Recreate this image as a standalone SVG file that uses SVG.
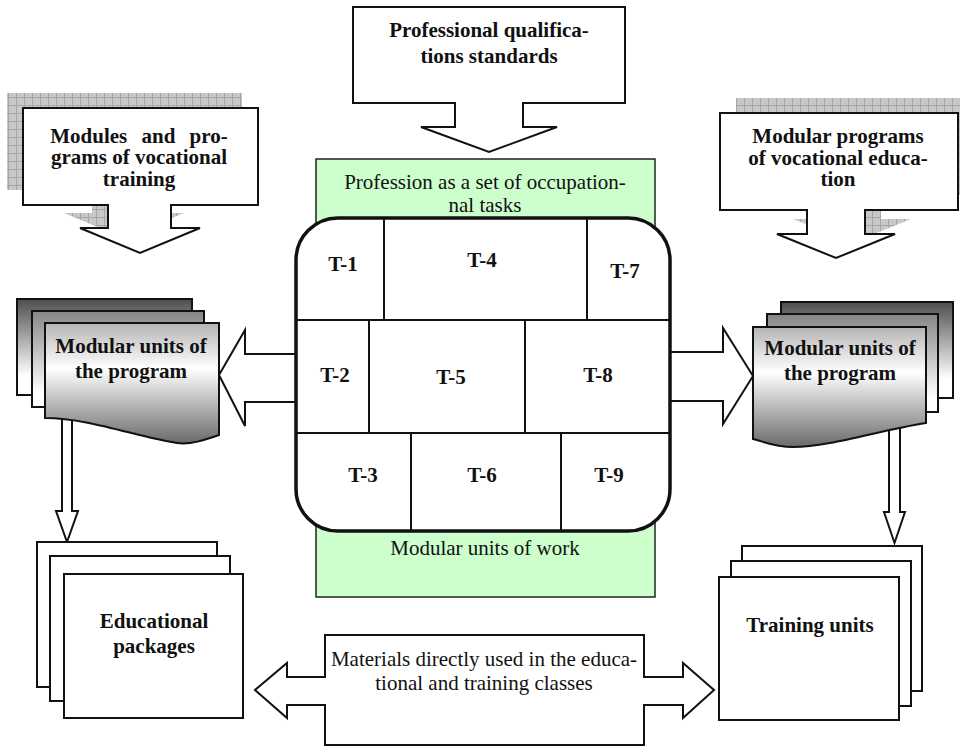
<svg xmlns="http://www.w3.org/2000/svg" width="960" height="746" viewBox="0 0 960 746">
  <defs>
    <style>
      .b { font-family: "Liberation Serif", "Times New Roman", serif; font-weight: bold; font-size: 21px; fill: #111; text-anchor: middle; }
      .r { font-family: "Liberation Serif", "Times New Roman", serif; font-size: 21px; fill: #111; text-anchor: middle; }
      .box { fill: #fff; stroke: #111; stroke-width: 2; }
      .arrow { fill: #fff; stroke: #111; stroke-width: 2; stroke-linejoin: miter; }
      .cell { stroke: #111; stroke-width: 2; fill: none; }
      .shadow { fill: url(#grid); stroke: none; }
    </style>
    <pattern id="grid" width="8" height="8" patternUnits="userSpaceOnUse">
      <rect width="8" height="8" fill="#c8c8c8"/>
      <path d="M0,0.5 H8 M0.5,0 V8" stroke="#a6a6a6" stroke-width="1"/>
    </pattern>
    <linearGradient id="gBack" x1="0" y1="0" x2="0" y2="1">
      <stop offset="0" stop-color="#4e4e4e"/>
      <stop offset="0.8" stop-color="#ffffff"/>
      <stop offset="1" stop-color="#ffffff"/>
    </linearGradient>
    <linearGradient id="gMid" x1="0" y1="0" x2="0" y2="1">
      <stop offset="0" stop-color="#858585"/>
      <stop offset="0.85" stop-color="#ffffff"/>
      <stop offset="1" stop-color="#ffffff"/>
    </linearGradient>
    <linearGradient id="gFront" x1="0" y1="0" x2="0" y2="1">
      <stop offset="0" stop-color="#b4b4b4"/>
      <stop offset="0.38" stop-color="#ffffff"/>
      <stop offset="1" stop-color="#6a6a6a"/>
    </linearGradient>
  </defs>

  <rect width="960" height="746" fill="#ffffff"/>

  <!-- Profession box with the task grid -->
  <g id="profession">
    <rect x="316" y="159" width="339" height="438" fill="#ccffcc" stroke="#222" stroke-width="1.5"/>
    <text class="r" x="485" y="189">Profession as a set of occupation-</text>
    <text class="r" x="485" y="212">nal tasks</text>
    <text class="r" x="485" y="555">Modular units of work</text>
  </g>

  <!-- block arrows between the nodes -->
  <g id="connectors">
    <path class="arrow" d="M298,354 H245 V330 L219,375 L245,426 V402 H298"/>
    <path class="arrow" d="M668,352 H723 V328 L753,376 L723,424 V401 H668"/>
    <path class="arrow" d="M62,420 V511 H56 L67,542 L78,511 H72 V420"/>
    <path class="arrow" d="M889,422 V512 H884 L894.5,543 L905,512 H900 V422"/>
    <path class="arrow" d="M325,635 H644 V677 H683 V663 L714,690 L683,718 V705 H644 V745 H325 V705 H287 V718 L255,690 L287,663 V677 H325 Z"/>
    <text class="r" x="484" y="666">Materials directly used in the educa-</text>
    <text class="r" x="484" y="690">tional and training classes</text>
  </g>

  <g id="tasks">
    <rect x="296" y="218" width="374" height="313" rx="42" ry="42" fill="#fff" stroke="#111" stroke-width="3.5"/>
    <path class="cell" d="M296,320 H670 M296,433 H670 M384,218 V320 M587,218 V320 M369,320 V433 M525,320 V433 M411,433 V531 M561,433 V531"/>
    <text class="b" x="343" y="271">T-1</text>
    <text class="b" x="482" y="267">T-4</text>
    <text class="b" x="625" y="278">T-7</text>
    <text class="b" x="335" y="382">T-2</text>
    <text class="b" x="451" y="384">T-5</text>
    <text class="b" x="598" y="382">T-8</text>
    <text class="b" x="363" y="482">T-3</text>
    <text class="b" x="482" y="482">T-6</text>
    <text class="b" x="609" y="482">T-9</text>
  </g>

  <!-- callouts -->
  <g id="standards">
    <path class="box" d="M353,7 H625 V103 H523 V127 H557 L489,152 L421,127 H455 V103 H353 Z"/>
    <text class="b" x="489" y="37">Professional qualifica-</text>
    <text class="b" x="489" y="63">tions standards</text>
  </g>

  <g id="training-programs">
    <path class="shadow" transform="translate(-16,-15)" d="M23,108 H258 V205 H171 V228 H200 L140,253 L80,228 H108 V205 H23 Z"/>
    <path class="box" d="M23,108 H258 V205 H171 V228 H200 L140,253 L80,228 H108 V205 H23 Z"/>
    <text class="b" x="139" y="143" word-spacing="9">Modules and pro-</text>
    <text class="b" x="139" y="164">grams of vocational</text>
    <text class="b" x="139" y="186">training</text>
  </g>

  <g id="education-programs">
    <path class="shadow" transform="translate(16,-15)" d="M720,113 H958 V210 H865 V234 H895 L836,258 L777,234 H807 V210 H720 Z"/>
    <path class="box" d="M720,113 H958 V210 H865 V234 H895 L836,258 L777,234 H807 V210 H720 Z"/>
    <text class="b" x="838" y="143">Modular programs</text>
    <text class="b" x="838" y="165">of vocational educa-</text>
    <text class="b" x="838" y="186">tion</text>
  </g>

  <!-- document stacks -->
  <g id="units-left">
    <rect x="17" y="299" width="175" height="96" fill="url(#gBack)" stroke="#111" stroke-width="2"/>
    <rect x="32" y="311" width="172" height="96" fill="url(#gMid)" stroke="#111" stroke-width="2"/>
    <path d="M45,323 H219 V435 C205,440 190,445 177,443 C140,438 90,418 45,418 Z" fill="url(#gFront)" stroke="#111" stroke-width="2"/>
    <text class="b" x="131" y="353">Modular units of</text>
    <text class="b" x="131" y="378">the program</text>
  </g>

  <g id="units-right">
    <rect x="781" y="302" width="172" height="96" fill="url(#gBack)" stroke="#111" stroke-width="2"/>
    <rect x="767" y="314" width="171" height="98" fill="url(#gMid)" stroke="#111" stroke-width="2"/>
    <path d="M753,327 H926 V423 C880,430 830,447 793,447 C775,447 765,442 753,439 Z" fill="url(#gFront)" stroke="#111" stroke-width="2"/>
    <text class="b" x="840" y="355">Modular units of</text>
    <text class="b" x="840" y="380">the program</text>
  </g>

  <g id="packages">
    <rect class="box" x="37" y="542" width="180" height="145"/>
    <rect class="box" x="50" y="556" width="180" height="145"/>
    <rect class="box" x="64" y="574" width="179" height="144"/>
    <text class="b" x="154" y="628">Educational</text>
    <text class="b" x="154" y="653">packages</text>
  </g>

  <g id="training-units">
    <rect class="box" x="742" y="546" width="180" height="145"/>
    <rect class="box" x="731" y="561" width="180" height="145"/>
    <rect class="box" x="719" y="577" width="180" height="143"/>
    <text class="b" x="810" y="632">Training units</text>
  </g>
</svg>
